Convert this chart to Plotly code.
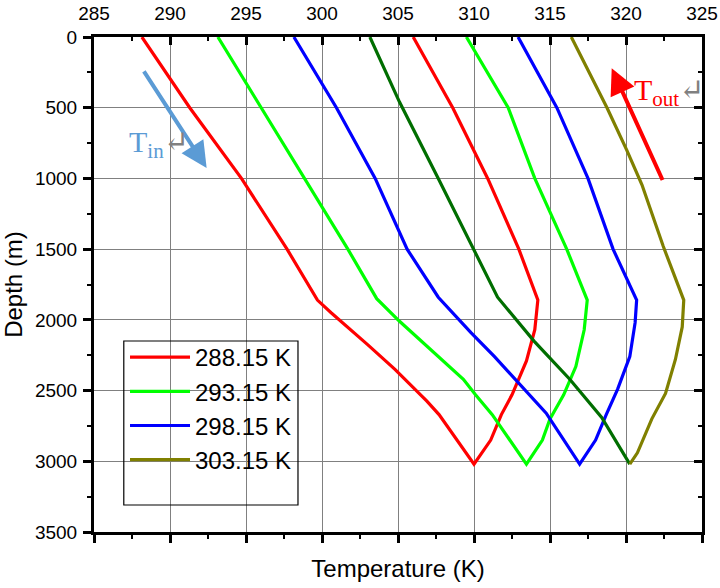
import plotly.graph_objects as go

# ---- data ----
series_names = ["288.15 K", "293.15 K", "298.15 K", "303.15 K"]

# 288.15 K
d_down_288 = [0, 500, 1000, 1500, 1860, 1950, 2175, 2350, 2575, 2670, 3020]
t_down_288 = [288.15, 291.3, 294.7, 297.7, 299.7, 300.6, 303.0, 304.8, 306.9, 307.7, 310.0]
d_up_288 = [3020, 2850, 2670, 2530, 2290, 2070, 1860, 1500, 1000, 500, 0]
t_up_288 = [310.0, 311.1, 311.8, 312.5, 313.45, 314.0, 314.2, 312.95, 310.9, 308.6, 306.0]

# 293.15 K
d_down_293 = [0, 500, 1000, 1500, 1850, 2010, 2420, 2530, 2670, 3020]
t_down_293 = [293.15, 296.0, 298.9, 301.7, 303.6, 305.1, 309.3, 310.1, 311.2, 313.45]
d_up_293 = [3020, 2850, 2700, 2530, 2330, 2070, 1860, 1500, 1000, 500, 0]
t_up_293 = [313.45, 314.5, 315.0, 315.9, 316.7, 317.25, 317.45, 316.1, 314.0, 312.25, 309.5]

# 298.15 K
d_down_298 = [0, 500, 1000, 1500, 1840, 2090, 2260, 2660, 3020]
t_down_298 = [298.15, 300.95, 303.5, 305.6, 307.65, 309.8, 311.35, 314.75, 316.95]
d_up_298 = [3020, 2850, 2670, 2490, 2260, 2020, 1860, 1500, 1000, 500, 0]
t_up_298 = [316.95, 318.0, 318.7, 319.45, 320.25, 320.6, 320.7, 319.15, 317.5, 315.45, 312.9]

# 303.15 K
d_down_303 = [0, 460, 1000, 1500, 1840, 2150, 2420, 2690, 3020]
t_down_303 = [303.15, 305.1, 307.65, 309.95, 311.55, 313.95, 316.3, 318.4, 320.25]
d_up_303 = [3020, 2940, 2700, 2520, 2280, 2050, 1860, 1480, 1045, 800, 500, 0]
t_up_303 = [320.25, 320.75, 321.7, 322.6, 323.25, 323.7, 323.8, 322.45, 321.05, 320.05, 318.75, 316.4]

x_ticks = [285, 290, 295, 300, 305, 310, 315, 320, 325]
y_ticks = [0, 500, 1000, 1500, 2000, 2500, 3000, 3500]

FONT = "Liberation Sans, Arial, sans-serif"
SERIF = "Liberation Serif, Times New Roman, DejaVu Serif, serif"

fig = go.Figure()

def add_line(t, d, color, name, show):
    fig.add_trace(go.Scatter(x=t, y=d, mode="lines", name=name,
                             line=dict(color=color, width=3.2),
                             showlegend=show, hoverinfo="skip"))

# 288.15
add_line(t_down_288 + t_up_288[1:], d_down_288 + d_up_288[1:], "#ff0000", series_names[0], True)
# 293.15
add_line(t_down_293 + t_up_293[1:], d_down_293 + d_up_293[1:], "#00ff00", series_names[1], True)
# 298.15
add_line(t_down_298 + t_up_298[1:], d_down_298 + d_up_298[1:], "#0000ff", series_names[2], True)
# 303.15 (down leg dark green, up leg olive)
add_line(t_down_303, d_down_303, "#006e00", series_names[3] + " in", False)
add_line(t_up_303, d_up_303, "#808000", series_names[3], True)

# transparent copy on the mirrored (top / right) axes so they get drawn
fig.add_trace(go.Scatter(x=t_up_303, y=d_up_303, mode="lines", xaxis="x2", yaxis="y2",
                         line=dict(color="rgba(0,0,0,0)", width=0), showlegend=False,
                         hoverinfo="skip"))

axis_common = dict(showline=True, linewidth=3, linecolor="black", automargin=False,
                   range=[285, 325], tickvals=x_ticks, zeroline=False)

fig.update_layout(
    width=720, height=588,
    margin=dict(l=94, r=18, t=37, b=56),
    paper_bgcolor="white", plot_bgcolor="white",
    font=dict(family=FONT, color="black"),
    xaxis=dict(**axis_common, side="bottom", showticklabels=False,
               ticks="outside", ticklen=8, tickwidth=3, tickcolor="black",
               minor=dict(dtick=2.5, tick0=285, ticks="outside", ticklen=4, tickwidth=2, tickcolor="black", showgrid=False),
               showgrid=True, gridcolor="#808080", gridwidth=1,
               title=dict(text="Temperature (K)", font=dict(size=24, family=FONT), standoff=19)),
    xaxis2=dict(**axis_common, side="top", overlaying="x", anchor="y2",
                showticklabels=True, ticks="inside", ticklen=8, tickwidth=3, tickcolor="black",
                minor=dict(dtick=2.5, tick0=285, ticks="inside", ticklen=4, tickwidth=2, tickcolor="black", showgrid=False),
                showgrid=False, tickfont=dict(size=19, family=FONT), ticklabelstandoff=6),
    yaxis=dict(showline=True, linewidth=3, linecolor="black", range=[3500, 0], automargin=False,
               tickvals=y_ticks, zeroline=False, ticks="outside", ticklen=8, tickwidth=3, tickcolor="black",
               minor=dict(dtick=250, tick0=0, ticks="outside", ticklen=4, tickwidth=2, tickcolor="black", showgrid=False),
               showgrid=True, gridcolor="#808080", gridwidth=1,
               tickfont=dict(size=19, family=FONT), ticklabelstandoff=2,
               title=dict(text="Depth (m)", font=dict(size=24, family=FONT), standoff=8)),
    yaxis2=dict(showline=True, linewidth=3, linecolor="black", range=[3500, 0], side="right", automargin=False,
                overlaying="y", anchor="x2", tickvals=y_ticks, showticklabels=False,
                zeroline=False, ticks="inside", ticklen=8, tickwidth=3, tickcolor="black",
                minor=dict(dtick=250, tick0=0, ticks="inside", ticklen=4, tickwidth=2, tickcolor="black", showgrid=False),
                showgrid=False),
    legend=dict(x=0.051, y=0.398, xanchor="left", yanchor="top",
                bgcolor="rgba(0,0,0,0)", borderwidth=0,
                font=dict(size=24, family=FONT, color="black"),
                itemwidth=60, tracegroupgap=0),
    showlegend=True,
)

# legend frame
fig.add_shape(type="rect", xref="paper", yref="paper",
              x0=0.049, x1=0.3355, y0=0.0545, y1=0.3859,
              line=dict(color="black", width=1.2), fillcolor="rgba(0,0,0,0)", layer="above")

# arrows
fig.add_annotation(x=292.41, y=927, ax=288.22, ay=233, xref="x", yref="y", axref="x", ayref="y",
                   showarrow=True, arrowhead=2, arrowsize=1.3, arrowwidth=4, arrowcolor="#5b9bd5", text="")
fig.add_annotation(x=319.06, y=221, ax=322.45, ay=1022, xref="x", yref="y", axref="x", ayref="y",
                   showarrow=True, arrowhead=2, arrowsize=1.3, arrowwidth=4, arrowcolor="#ff0000", text="")

fig.add_annotation(x=289.25, y=760, xref="x", yref="y", showarrow=False, xanchor="center", yanchor="middle",
                   text="T<sub>in</sub><span style='color:#808080'>↵</span>",
                   font=dict(family=SERIF, size=30, color="#5b9bd5"))
fig.add_annotation(x=322.85, y=390, xref="x", yref="y", showarrow=False, xanchor="center", yanchor="middle",
                   text="T<sub>out</sub><span style='color:#808080'>↵</span>",
                   font=dict(family=SERIF, size=30, color="#ff0000"))

fig.write_html("out.html", config={"displayModeBar": False},
               post_script="document.body.style.margin='0';document.body.style.overflow='hidden';")
